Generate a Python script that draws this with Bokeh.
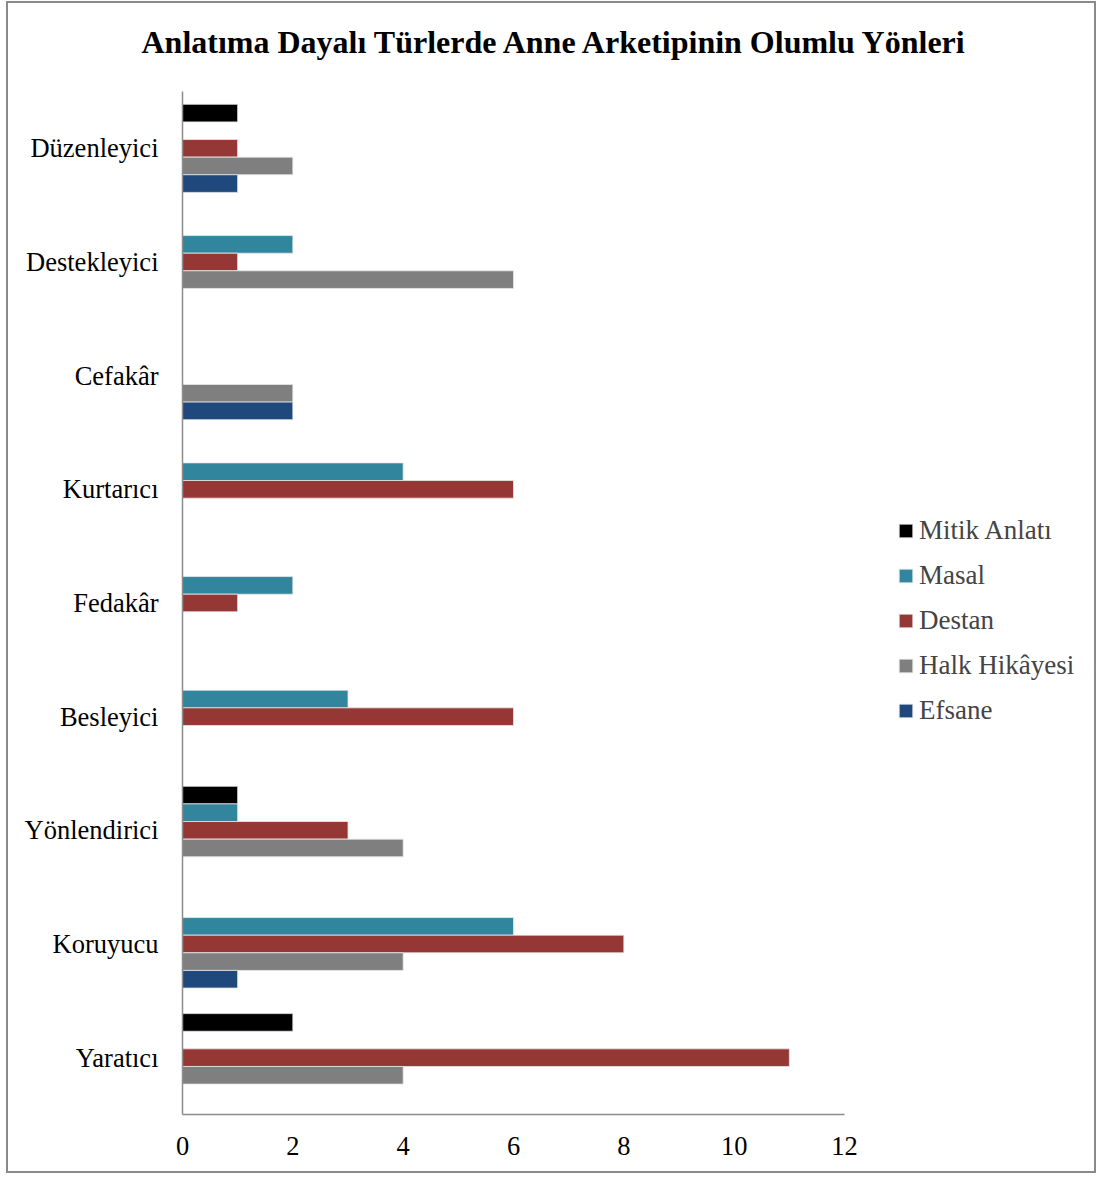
from bokeh.plotting import figure
from bokeh.models import Range1d, Legend, LegendItem, ColumnDataSource, FixedTicker
from bokeh.embed import file_html
from bokeh.resources import INLINE

categories = ["Yaratıcı", "Koruyucu", "Yönlendirici", "Besleyici", "Fedakâr",
              "Kurtarıcı", "Cefakâr", "Destekleyici", "Düzenleyici"]
efsane = [0, 1, 0, 0, 0, 0, 2, 0, 1]
halk_hikayesi = [4, 4, 4, 0, 0, 0, 2, 6, 2]
destan = [11, 8, 3, 6, 1, 6, 0, 1, 1]
masal = [0, 6, 1, 3, 2, 4, 0, 2, 0]
mitik_anlati = [2, 0, 1, 0, 0, 0, 0, 0, 1]
x_ticks = [0, 2, 4, 6, 8, 10, 12]
title_text = "Anlatıma Dayalı Türlerde Anne Arketipinin Olumlu Yönleri"

series = [
    ("Mitik Anlatı", mitik_anlati, "#000000", 0.31),
    ("Masal", masal, "#31859C", 0.155),
    ("Destan", destan, "#953735", 0.0),
    ("Halk Hikâyesi", halk_hikayesi, "#7F7F7F", -0.155),
    ("Efsane", efsane, "#1F497D", -0.31),
]

FONT = "Liberation Serif"

n = len(categories)
centers = [i + 0.5 for i in range(n)]
# frame extends right of / slightly above the axes; the visible axes are
# limited with bounds so the legend can sit inside the frame
x_end = 12 * 916 / 662
y_end = n * (1114 - 77) / 1023

p = figure(width=1090, height=1172, y_range=Range1d(0, y_end),
           x_range=Range1d(0, x_end), output_backend="svg", toolbar_location=None,
           min_border_left=174, min_border_right=0, min_border_top=0, min_border_bottom=61,
           styles={"border": "2px solid #8a8a8a", "margin-left": "6px", "margin-top": "1px"})

p.title.text = title_text
p.title.align = "left"
p.title.offset = -41
p.title.standoff = 36
p.title.text_font = FONT
p.title.text_font_size = "32px"
p.title.text_font_style = "bold"
p.title.text_color = "#000000"

items = []
for name, vals, color, off in series:
    ys = [c + off for c, v in zip(centers, vals) if v > 0]
    vs = [v for v in vals if v > 0]
    src = ColumnDataSource(dict(y=ys, val=vs))
    r = p.hbar(y="y", right="val", left=0, height=0.155,
               source=src, fill_color=color, line_color="#e8e8e8", line_width=0.8)
    items.append(LegendItem(label=name, renderers=[r]))

legend = Legend(items=items, location=(715, 388), glyph_width=17, glyph_height=17,
                label_height=20, spacing=14, padding=0, margin=0, label_standoff=5,
                label_text_font=FONT, label_text_font_size="27px",
                border_line_color=None, background_fill_alpha=0)
p.add_layout(legend, "center")

p.xgrid.visible = False
p.ygrid.visible = False
p.outline_line_color = None

for ax in (p.xaxis[0], p.yaxis[0]):
    ax.axis_line_color = "#8c8c8c"
    ax.axis_line_width = 1.5
    ax.major_tick_line_color = None
    ax.minor_tick_line_color = None
    ax.major_label_text_font = FONT
    ax.major_label_text_font_size = "26.5px"
    ax.major_label_text_color = "#000000"

p.xaxis.ticker = FixedTicker(ticks=x_ticks)
p.xaxis.bounds = (x_ticks[0], x_ticks[-1])
p.xaxis.major_label_standoff = 16

p.yaxis.ticker = FixedTicker(ticks=centers)
p.yaxis.major_label_overrides = {c: name for c, name in zip(centers, categories)}
p.yaxis.bounds = (0, n)
p.yaxis.major_label_standoff = 18

open("out.html", "w").write(file_html(p, INLINE))
